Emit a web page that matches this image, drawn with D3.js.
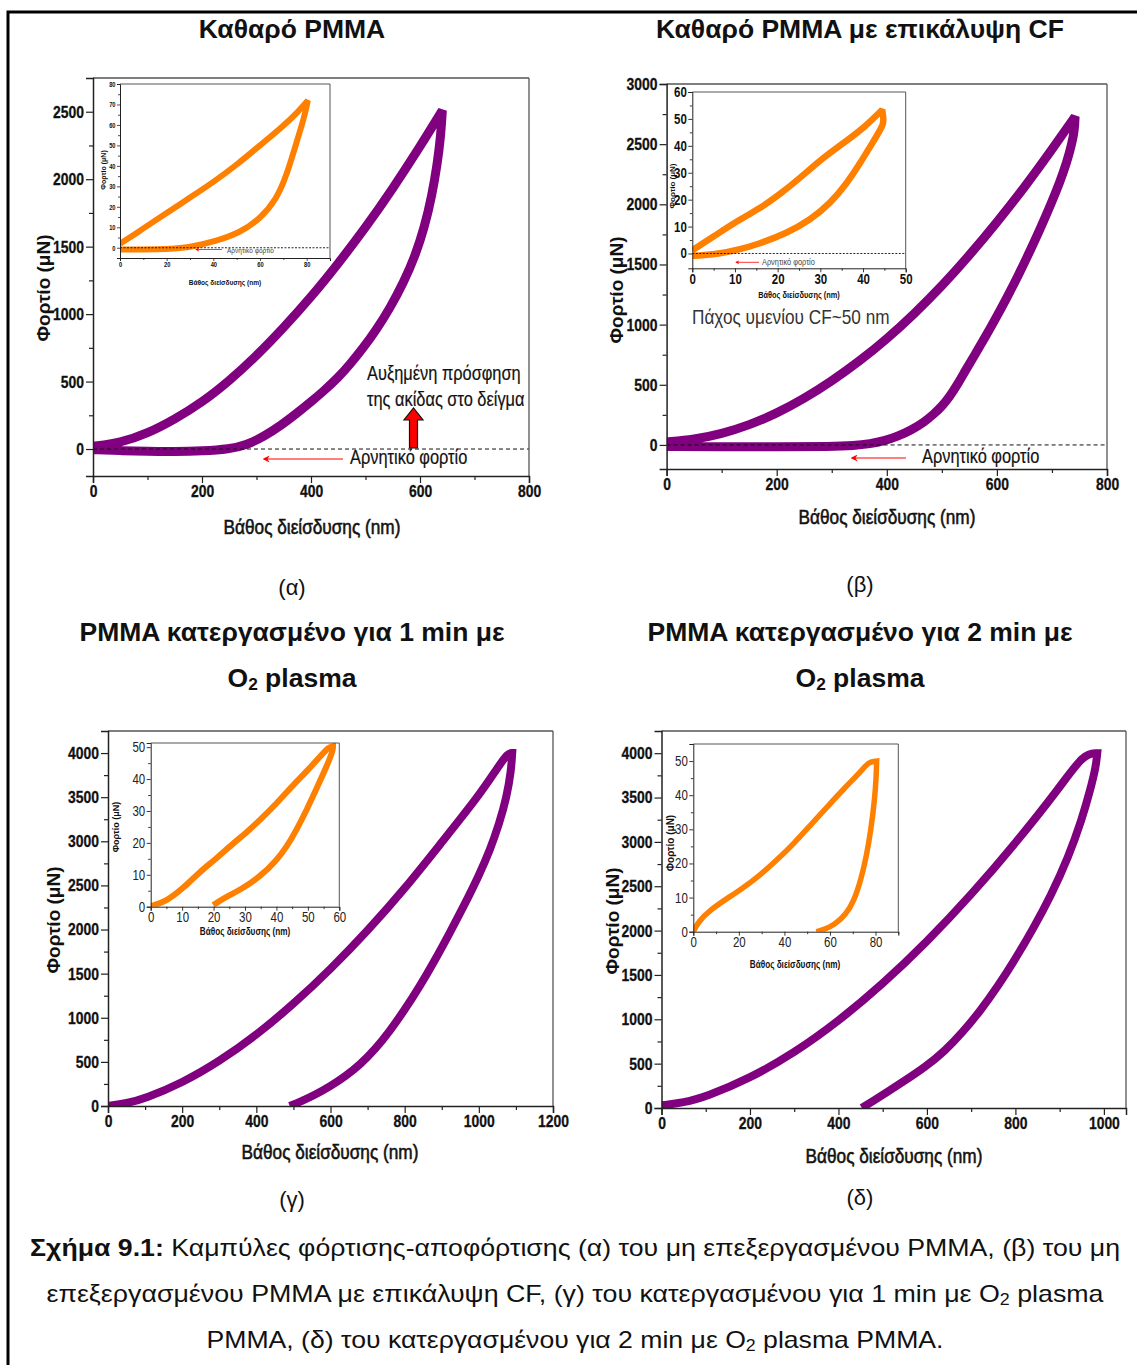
<!DOCTYPE html>
<html>
<head>
<meta charset="utf-8">
<script src="https://cdn.jsdelivr.net/npm/d3@7"></script>
<style>
  body { margin: 0; background: #fff; }
  svg { display: block; }
</style>
</head>
<body>
<svg id="fig" width="1137" height="1365"></svg>
<script>
// ---- Load–displacement data (depth in nm, load in μN) ----
// (α) pure PMMA
const pureLoad = [[0,20],[50,45],[100,115],[150,220],[200,345],[250,505],[300,690],[350,900],[400,1125],[450,1375],[500,1640],[550,1930],[600,2240],[641,2510]];
const pureUnload = [[641,2510],[638,2320],[632,2120],[622,1880],[608,1640],[591,1430],[570,1235],[545,1045],[520,884],[495,745],[471,625],[450,530],[422,425],[400,350],[374,265],[345,175],[313,91],[280,28],[251,0],[200,-15],[150,-20],[100,-18],[50,-12],[0,-5]];
const pureInsetLoad = [[0,2],[5,5.5],[10,9.5],[20,17],[30,24.5],[40,32],[50,40.5],[60,50],[70,59.5],[76,66],[80.5,72]];
const pureInsetUnload = [[80.5,72],[80,69],[78.5,62],[75.7,51.7],[71.4,35.3],[67.1,23.8],[60,14],[51.4,7.4],[41.4,3.3],[30,0],[15.7,-0.8],[0,-0.8]];

// (β) PMMA with CF coating
const cfLoad = [[0,25],[50,45],[100,92],[150,165],[200,262],[250,385],[300,530],[350,695],[400,880],[450,1090],[500,1320],[550,1575],[600,1850],[650,2140],[700,2455],[742,2730]];
const cfUnload = [[742,2730],[741,2620],[736,2500],[727,2350],[714,2180],[698,2000],[680,1810],[660,1610],[640,1420],[620,1240],[600,1070],[580,905],[560,750],[543,620],[528,500],[514,400],[500,320],[485,255],[468,190],[445,125],[419,70],[395,33],[370,10],[340,-6],[300,-13],[200,-15],[100,-15],[0,-12]];
const cfInsetLoad = [[0,1.2],[4.9,6.2],[10.2,11.8],[15.9,16.8],[20.3,21.7],[25.2,28],[30.5,35.4],[35.4,41],[40.6,47.2],[44.5,53.4]];
const cfInsetUnload = [[44.5,53.4],[44.8,50],[44.8,47.8],[42.4,41.6],[39.3,33.5],[36.2,26],[32.3,18.6],[27.6,12.4],[22.1,7.5],[15.9,3.7],[10.4,1.2],[6.5,0],[2.6,-0.6],[0,-0.9]];

// (γ) 1 min O2 plasma
const o1Load = [[0,0],[50,30],[100,85],[200,261],[300,504],[400,802],[500,1154],[600,1548],[700,1986],[800,2460],[900,2989],[1000,3515],[1050,3830],[1078,4000],[1090,4000]];
const o1Unload = [[1090,4000],[1087,3800],[1075,3500],[1055,3200],[1030,2900],[1000,2610],[960,2270],[920,1950],[880,1640],[840,1350],[800,1090],[760,850],[720,640],[680,470],[640,335],[600,225],[560,130],[520,50],[490,0]];
const o1InsetLoad = [[0,0.2],[5,1.6],[10.9,6.3],[15.7,11],[20.3,14.6],[26.3,19.9],[30.2,23],[34.8,27.2],[40.1,32.4],[45.4,38.2],[49.6,42.4],[54.4,47.6],[56.5,50],[58,50.3]];
const o1InsetUnload = [[58,50.3],[58,49],[56,44],[52.8,37.1],[49.6,30.3],[46.4,24.1],[43.3,18.8],[40.1,14.6],[34.8,9.4],[28.4,5.2],[23.1,2.6],[19.9,0.5]];

// (δ) 2 min O2 plasma
const o2Load = [[0,30],[50,60],[100,125],[200,335],[300,620],[400,977],[500,1396],[600,1872],[700,2402],[800,2982],[900,3611],[955,4000],[985,4000]];
const o2Unload = [[985,4000],[982,3850],[970,3600],[950,3250],[920,2830],[880,2390],[840,2020],[800,1680],[760,1370],[720,1090],[680,850],[640,640],[597,465],[549,305],[510,180],[480,85],[453,0]];
const o2InsetLoad = [[0,0],[2.2,2.9],[7.3,6.3],[14.7,9.7],[20.6,12.2],[29.4,16.6],[36.7,21],[44.1,25.8],[51.4,31.2],[58.7,36.5],[66.1,41.9],[73.4,46.8],[77,49.8],[80.5,50]];
const o2InsetUnload = [[80.5,50],[80.3,45],[79.5,38],[78,30],[76,22],[73.5,15],[70.5,9],[67,5],[62,2],[57,0.5],[54,0]];

// ---- Tick values ----
const depthTicks800 = [0,200,400,600,800];
const depthTicks1200 = [0,200,400,600,800,1000,1200];
const depthTicks1000 = [0,200,400,600,800,1000];
const loadTicks2500 = [0,500,1000,1500,2000,2500];
const loadTicks3000 = [0,500,1000,1500,2000,2500,3000];
const loadTicks4000 = [0,500,1000,1500,2000,2500,3000,3500,4000];
const insetTicksA_x = [0,20,40,60,80];
const insetTicksA_y = [0,10,20,30,40,50,60,70,80];
const insetTicksB_x = [0,10,20,30,40,50];
const insetTicksB_y = [0,10,20,30,40,50,60];
const insetTicksC_x = [0,10,20,30,40,50,60];
const insetTicksC_y = [0,10,20,30,40,50];
const insetTicksD_x = [0,20,40,60,80];
const insetTicksD_y = [0,10,20,30,40,50];

// ---- Text ----
const depthTitle = "Βάθος διείσδυσης (nm)";
const loadTitle = "Φορτίο (μN)";
const negLoadText = "Αρνητικό φορτίο";

const PURPLE = "#800080";
const ORANGE = "#ff8000";
const SANS = "'Liberation Sans', Arial, sans-serif";
const NARROW = 0.82;

const svg = d3.select("#fig");

const defs = svg.append("defs");
defs.append("marker")
  .attr("id", "redHead").attr("viewBox", "0 0 10 10")
  .attr("refX", 8).attr("refY", 5)
  .attr("markerWidth", 7).attr("markerHeight", 7)
  .attr("markerUnits", "userSpaceOnUse")
  .attr("orient", "auto")
  .append("path").attr("d", "M0,0 L10,5 L0,10 L3,5 Z").attr("fill", "red");
defs.append("marker")
  .attr("id", "redHeadSmall").attr("viewBox", "0 0 10 10")
  .attr("refX", 8).attr("refY", 5)
  .attr("markerWidth", 4).attr("markerHeight", 4)
  .attr("markerUnits", "userSpaceOnUse")
  .attr("orient", "auto")
  .append("path").attr("d", "M0,0 L10,5 L0,10 L3,5 Z").attr("fill", "red");

// Condensed text: Liberation Sans squeezed horizontally
function narrowText(g, x, y, str, size, opts = {}) {
  const t = g.append("text")
    .attr("transform", `translate(${x},${y}) scale(${opts.sx || NARROW},1)`)
    .attr("font-family", SANS)
    .attr("font-size", size)
    .attr("font-weight", opts.weight || "normal")
    .attr("fill", opts.fill || "#111")
    .attr("text-anchor", opts.anchor || "start")
    .attr("dominant-baseline", "central")
    .text(str);
  if (opts.stroke) t.attr("stroke", opts.fill || "#111").attr("stroke-width", opts.stroke);
  return t;
}

// One continuous loop: loading, peak corner kept sharp, unloading
function loopPoints(load, unload) {
  const peak = unload[0];
  return load.concat([peak, peak], unload.slice(1));
}

let clipId = 0;
function panel(o) {
  const x = d3.scaleLinear().domain(o.xDomain).range([o.left, o.right]);
  const y = d3.scaleLinear().domain(o.yDomain).range([o.bottom, o.top]);
  const g = svg.append("g");

  if (o.inset) {
    g.append("rect").attr("x", o.left).attr("y", o.top)
      .attr("width", o.right - o.left).attr("height", o.bottom - o.top)
      .attr("fill", "#fff");
  }

  const cid = "clip" + (clipId++);
  defs.append("clipPath").attr("id", cid).append("rect")
    .attr("x", o.left).attr("y", o.top)
    .attr("width", o.right - o.left).attr("height", o.bottom - o.top);

  const line = d3.line().x(d => x(d[0])).y(d => y(d[1]))
    .curve(d3.curveBasis);

  const plot = g.append("g").attr("clip-path", `url(#${cid})`);
  plot.append("path").attr("d", line(loopPoints(o.load, o.unload)))
    .attr("fill", "none").attr("stroke", o.color)
    .attr("stroke-width", o.lineWidth)
    .attr("stroke-linejoin", "miter").attr("stroke-miterlimit", 2)
    .attr("stroke-linecap", "butt");

  if (o.zeroLine) {
    g.append("line")
      .attr("x1", x(0)).attr("x2", o.right)
      .attr("y1", y(0)).attr("y2", y(0))
      .attr("stroke", "#111").attr("stroke-width", o.zeroWidth || 1)
      .attr("stroke-dasharray", o.zeroDash || "4,3");
  }

  // frame: top/right lighter, left/bottom darker
  g.append("line").attr("x1", o.left).attr("x2", o.right).attr("y1", o.top).attr("y2", o.top)
    .attr("stroke", o.frameColor || "#555").attr("stroke-width", o.frameWidth || 1.3);
  g.append("line").attr("x1", o.right).attr("x2", o.right).attr("y1", o.top).attr("y2", o.bottom)
    .attr("stroke", o.frameColor || "#555").attr("stroke-width", o.frameWidth || 1.3);

  const tf = o.tickFont;
  const xAxis = g.append("g").attr("transform", `translate(0,${o.bottom})`)
    .call(d3.axisBottom(x).tickValues(o.xTicks).tickSize(o.tickLen).tickPadding(o.tickPad || 2).tickFormat(d3.format("d")));
  g.append("g").attr("transform", `translate(0,${o.bottom})`)
    .call(d3.axisBottom(x).tickValues(o.xMinor).tickSize(o.minorLen).tickFormat(""))
    .call(a => a.select(".domain").remove());
  const yAxis = g.append("g").attr("transform", `translate(${o.left},0)`)
    .call(d3.axisLeft(y).tickValues(o.yTicks).tickSize(o.tickLen).tickPadding(o.tickPad || 2).tickFormat(d3.format("d")));
  g.append("g").attr("transform", `translate(${o.left},0)`)
    .call(d3.axisLeft(y).tickValues(o.yMinor).tickSize(o.minorLen).tickFormat(""))
    .call(a => a.select(".domain").remove());

  [xAxis, yAxis].forEach(a => {
    a.select(".domain").attr("stroke", "#222").attr("stroke-width", o.axisWidth || 1.5);
  });
  g.selectAll(".tick line").attr("stroke", "#222").attr("stroke-width", o.tickWidth || 1.2);

  const styleTicks = sel => sel
    .attr("font-family", SANS).attr("font-size", tf.size)
    .attr("font-weight", tf.weight).attr("fill", tf.fill)
    .attr("stroke", tf.stroke ? tf.fill : null).attr("stroke-width", tf.stroke || null)
    .attr("transform", `scale(${NARROW},1)`);
  styleTicks(xAxis.selectAll(".tick text"));
  styleTicks(yAxis.selectAll(".tick text"))
    .attr("x", -(o.tickLen + (o.tickPad || 2)) / NARROW);

  // axis titles
  const xt = o.xTitle;
  narrowText(g, xt.x, xt.y, depthTitle, xt.size, { anchor: "middle", weight: xt.weight, fill: "#111", stroke: xt.stroke });
  const yt = o.yTitle;
  g.append("text")
    .attr("transform", `translate(${yt.x},${yt.y}) rotate(-90)`)
    .attr("font-family", SANS).attr("font-size", yt.size)
    .attr("font-weight", "bold").attr("fill", "#111")
    .attr("text-anchor", "middle").attr("dominant-baseline", "central")
    .text(loadTitle);

  return { x, y, g };
}

function range(a, b, s) { return d3.range(a, b + s / 2, s); }

const mainTickFont = { size: 17, weight: "bold", fill: "#111", stroke: 0.3 };

// ===== (α) =====
const pA = panel({
  left: 93, right: 529, top: 78, bottom: 476,
  xDomain: [0, 800], yDomain: [-200, 2750],
  xTicks: depthTicks800, xMinor: range(100, 700, 200),
  yTicks: loadTicks2500, yMinor: range(250, 2250, 500),
  tickLen: 7, minorLen: 4, tickPad: 2,
  tickFont: mainTickFont,
  load: pureLoad, unload: pureUnload, color: PURPLE, lineWidth: 9,
  zeroLine: true,
  xTitle: { x: 312, y: 527, size: 21, weight: "normal", stroke: 0.6 },
  yTitle: { x: 43, y: 288, size: 19 }
});
const pAi = panel({
  inset: true,
  left: 120, right: 330, top: 84, bottom: 258,
  xDomain: [0, 90], yDomain: [-5, 80],
  xTicks: insetTicksA_x, xMinor: range(10, 70, 20),
  yTicks: insetTicksA_y, yMinor: range(5, 75, 10),
  tickLen: 3, minorLen: 2, tickPad: 1.5, axisWidth: 1, tickWidth: 0.8, frameWidth: 1,
  tickFont: { size: 7, weight: "bold", fill: "#111" },
  load: pureInsetLoad, unload: pureInsetUnload, color: ORANGE, lineWidth: 6,
  zeroLine: true, zeroDash: "2,1.5", zeroWidth: 0.9,
  xTitle: { x: 225, y: 282, size: 8, weight: "bold" },
  yTitle: { x: 103, y: 170, size: 7 }
});
pAi.g.append("line").attr("x1", 222).attr("x2", 196).attr("y1", 249.5).attr("y2", 249.5)
  .attr("stroke", "red").attr("stroke-width", 0.8).attr("marker-end", "url(#redHeadSmall)");
narrowText(pAi.g, 227, 250, negLoadText, 8, { fill: "#444" });

// annotations in main (α)
pA.g.append("line").attr("x1", 343).attr("x2", 264).attr("y1", 459).attr("y2", 459)
  .attr("stroke", "red").attr("stroke-width", 1.2).attr("marker-end", "url(#redHead)");
narrowText(pA.g, 350, 457, negLoadText, 20, { fill: "#111", stroke: 0.2 });
narrowText(pA.g, 367, 373, "Αυξημένη πρόσφηση", 20, { fill: "#111", stroke: 0.2 });
narrowText(pA.g, 367, 399, "της ακίδας στο δείγμα", 20, { fill: "#111", stroke: 0.2 });
pA.g.append("path")
  .attr("d", "M409.5,448 L409.5,420 L404,420 L413.5,408 L423,420 L417.5,420 L417.5,448 Z")
  .attr("fill", "red").attr("stroke", "#111").attr("stroke-width", 1.2);

// ===== (β) =====
const pB = panel({
  left: 666.6, right: 1107, top: 84, bottom: 469,
  xDomain: [0, 800], yDomain: [-200, 3000],
  xTicks: depthTicks800, xMinor: range(100, 700, 200),
  yTicks: loadTicks3000, yMinor: range(250, 2750, 500),
  tickLen: 7, minorLen: 4, tickPad: 2,
  tickFont: mainTickFont,
  load: cfLoad, unload: cfUnload, color: PURPLE, lineWidth: 9,
  zeroLine: true,
  xTitle: { x: 887, y: 517, size: 21, weight: "normal", stroke: 0.6 },
  yTitle: { x: 616, y: 290, size: 19 }
});
pB.g.append("line").attr("x1", 906).attr("x2", 852).attr("y1", 458).attr("y2", 458)
  .attr("stroke", "red").attr("stroke-width", 1.2).attr("marker-end", "url(#redHead)");
narrowText(pB.g, 922, 456, negLoadText, 20, { fill: "#111", stroke: 0.2 });

const pBi = panel({
  inset: true,
  left: 692.3, right: 905.7, top: 92, bottom: 268.3,
  xDomain: [0, 50], yDomain: [-5.5, 60],
  xTicks: insetTicksB_x, xMinor: range(5, 45, 10),
  yTicks: insetTicksB_y, yMinor: range(5, 55, 10),
  tickLen: 4, minorLen: 2.5, tickPad: 1.5, axisWidth: 1, tickWidth: 0.9, frameWidth: 1,
  tickFont: { size: 14, weight: "bold", fill: "#111" },
  load: cfInsetLoad, unload: cfInsetUnload, color: ORANGE, lineWidth: 6.5,
  zeroLine: true, zeroDash: "2,1.5", zeroWidth: 0.9,
  xTitle: { x: 799, y: 295, size: 9, weight: "bold" },
  yTitle: { x: 672, y: 186, size: 8 }
});
pBi.g.append("line").attr("x1", 759).attr("x2", 736).attr("y1", 262.3).attr("y2", 262.3)
  .attr("stroke", "red").attr("stroke-width", 0.8).attr("marker-end", "url(#redHeadSmall)");
narrowText(pBi.g, 762, 262.5, negLoadText, 9, { fill: "#444" });
narrowText(pB.g, 692, 317, "Πάχος υμενίου CF~50 nm", 21, { fill: "#333" });

// ===== (γ) =====
panel({
  left: 108, right: 553, top: 731, bottom: 1106,
  xDomain: [0, 1200], yDomain: [0, 4250],
  xTicks: depthTicks1200, xMinor: range(100, 1100, 200),
  yTicks: loadTicks4000, yMinor: range(250, 3750, 500),
  tickLen: 7, minorLen: 4, tickPad: 2,
  tickFont: mainTickFont,
  load: o1Load, unload: o1Unload, color: PURPLE, lineWidth: 8,
  zeroLine: false,
  xTitle: { x: 330, y: 1152, size: 21, weight: "normal", stroke: 0.6 },
  yTitle: { x: 53, y: 920, size: 19 }
});
panel({
  inset: true,
  left: 150.7, right: 339.3, top: 743, bottom: 906.7,
  xDomain: [0, 60], yDomain: [0, 51.3],
  xTicks: insetTicksC_x, xMinor: range(5, 55, 10),
  yTicks: insetTicksC_y, yMinor: range(5, 45, 10),
  tickLen: 4, minorLen: 2.5, tickPad: 1.5, axisWidth: 1, tickWidth: 0.9, frameWidth: 1,
  tickFont: { size: 14, weight: "normal", fill: "#222" },
  load: o1InsetLoad, unload: o1InsetUnload, color: ORANGE, lineWidth: 6,
  zeroLine: false,
  xTitle: { x: 245, y: 932, size: 10, weight: "bold" },
  yTitle: { x: 116, y: 827, size: 9 }
});

// ===== (δ) =====
panel({
  left: 661.5, right: 1126, top: 731, bottom: 1108,
  xDomain: [0, 1050], yDomain: [0, 4250],
  xTicks: depthTicks1000, xMinor: range(100, 900, 200),
  yTicks: loadTicks4000, yMinor: range(250, 3750, 500),
  tickLen: 7, minorLen: 4, tickPad: 2,
  tickFont: mainTickFont,
  load: o2Load, unload: o2Unload, color: PURPLE, lineWidth: 8,
  zeroLine: false,
  xTitle: { x: 894, y: 1156, size: 21, weight: "normal", stroke: 0.6 },
  yTitle: { x: 612, y: 921, size: 19 }
});
panel({
  inset: true,
  left: 693.3, right: 898.3, top: 744, bottom: 931.7,
  xDomain: [0, 90], yDomain: [0, 55],
  xTicks: insetTicksD_x, xMinor: range(10, 90, 20),
  yTicks: insetTicksD_y, yMinor: range(5, 55, 10),
  tickLen: 4, minorLen: 2.5, tickPad: 1.5, axisWidth: 1, tickWidth: 0.9, frameWidth: 1,
  tickFont: { size: 14, weight: "normal", fill: "#222" },
  load: o2InsetLoad, unload: o2InsetUnload, color: ORANGE, lineWidth: 5.5,
  zeroLine: false,
  xTitle: { x: 795, y: 965, size: 10, weight: "bold" },
  yTitle: { x: 670, y: 843, size: 10 }
});

// ===== Panel titles and letters =====
function title(x, y, parts, size) {
  const t = svg.append("text")
    .attr("x", x).attr("y", y)
    .attr("font-family", SANS).attr("font-size", size).attr("font-weight", "bold")
    .attr("fill", "#111").attr("text-anchor", "middle").attr("dominant-baseline", "central");
  parts.forEach(p => {
    const s = t.append("tspan").text(p.t);
    if (p.sub) s.attr("font-size", size * 0.65).attr("dy", 6);
    if (p.up) s.attr("dy", -6);
  });
  return t;
}
const TITLE_SIZE = 26.5;
title(292, 29, [{ t: "Καθαρό PMMA" }], TITLE_SIZE);
title(860, 29, [{ t: "Καθαρό PMMA με επικάλυψη CF" }], TITLE_SIZE);
title(292, 632, [{ t: "PMMA κατεργασμένο για 1 min με" }], TITLE_SIZE);
title(292, 678, [{ t: "O" }, { t: "2", sub: true }, { t: " plasma", up: true }], TITLE_SIZE);
title(860, 632, [{ t: "PMMA κατεργασμένο για 2 min με" }], TITLE_SIZE);
title(860, 678, [{ t: "O" }, { t: "2", sub: true }, { t: " plasma", up: true }], TITLE_SIZE);

const letters = [["(α)", 292, 587], ["(β)", 860, 584], ["(γ)", 292, 1199], ["(δ)", 860, 1197]];
letters.forEach(([s, x, y]) => {
  svg.append("text").attr("x", x).attr("y", y)
    .attr("font-family", SANS).attr("font-size", 22).attr("fill", "#111")
    .attr("text-anchor", "middle").attr("dominant-baseline", "central").text(s);
});

// ===== Caption =====
function caption(y, parts, len) {
  const t = svg.append("text")
    .attr("x", 575).attr("y", y)
    .attr("font-family", SANS).attr("font-size", 24).attr("fill", "#111")
    .attr("text-anchor", "middle").attr("dominant-baseline", "central")
    .attr("textLength", len).attr("lengthAdjust", "spacingAndGlyphs");
  parts.forEach(p => {
    const s = t.append("tspan").text(p.t);
    if (p.b) s.attr("font-weight", "bold");
    if (p.sub) s.attr("font-size", 16).attr("dy", 6);
    if (p.up) s.attr("dy", -6);
  });
}
caption(1247, [{ t: "Σχήμα 9.1:", b: true }, { t: " Καμπύλες φόρτισης-αποφόρτισης (α) του μη επεξεργασμένου PMMA, (β) του μη" }], 1090);
caption(1293, [{ t: "επεξεργασμένου PMMA με επικάλυψη CF, (γ) του κατεργασμένου για 1 min με O" }, { t: "2", sub: true }, { t: " plasma", up: true }], 1057);
caption(1339, [{ t: "PMMA, (δ) του κατεργασμένου για 2 min με O" }, { t: "2", sub: true }, { t: " plasma PMMA.", up: true }], 737);

// ===== Outer border =====
svg.append("path").attr("d", "M8,1365 L8,12 L1137,12")
  .attr("fill", "none").attr("stroke", "#000").attr("stroke-width", 3);
</script>
</body>
</html>
